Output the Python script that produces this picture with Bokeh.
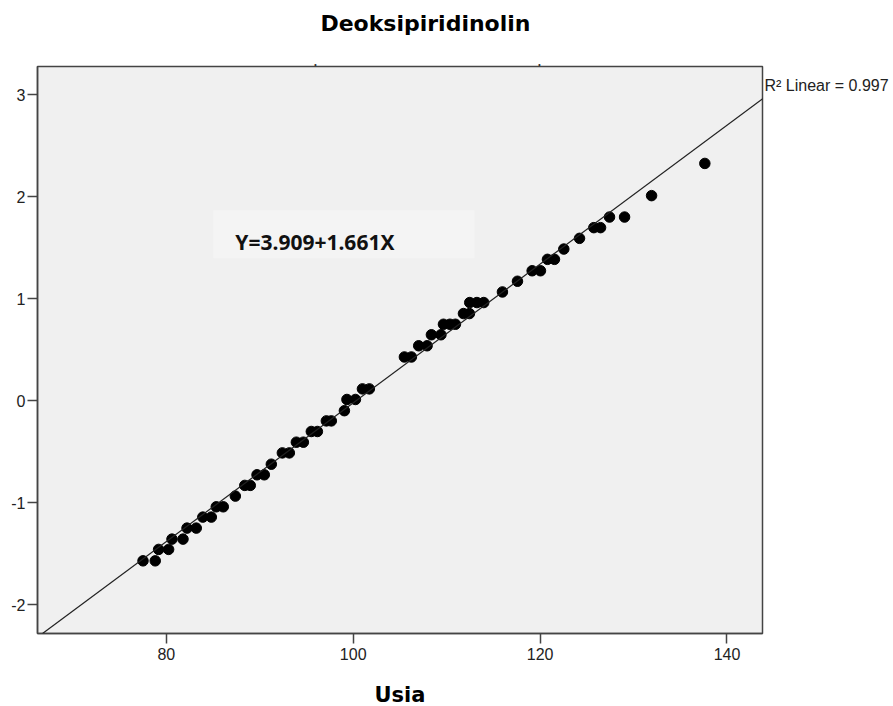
from bokeh.plotting import figure
from bokeh.models import Range1d, FixedTicker, Label, Slope, BoxAnnotation, LinearAxis
from bokeh.embed import file_html
from bokeh.resources import INLINE

# ---- data ----
title_text = "Deoksipiridinolin"
x_label = "Usia"
equation_text = "Y=3.909+1.661X"
r2_text = "R\u00b2 Linear = 0.997"

usia = [77.51, 78.82, 79.18, 80.25, 80.61, 81.79, 82.22, 83.21, 83.91, 84.82,
        85.35, 86.10, 87.39, 88.40, 88.99, 89.71, 90.49, 91.24, 92.42, 93.17,
        93.92, 94.67, 95.52, 96.17, 97.13, 97.66, 99.06, 99.33, 100.24, 100.99,
        101.73, 105.48, 106.23, 107.01, 107.91, 108.37, 109.39, 109.66, 110.35, 110.94,
        111.80, 112.44, 112.47, 113.24, 113.97, 115.97, 117.58, 119.15, 120.04, 120.79,
        121.54, 122.54, 124.22, 125.75, 126.47, 127.43, 129.04, 131.93, 137.63]
expected_normal = [-1.571, -1.571, -1.459, -1.459, -1.358, -1.358, -1.250, -1.250, -1.142, -1.142,
                   -1.041, -1.041, -0.936, -0.831, -0.831, -0.727, -0.727, -0.623, -0.512, -0.512,
                   -0.407, -0.407, -0.302, -0.302, -0.198, -0.198, -0.098, 0.012, 0.012, 0.116,
                   0.116, 0.429, 0.429, 0.539, 0.539, 0.647, 0.647, 0.750, 0.750, 0.750,
                   0.855, 0.855, 0.963, 0.963, 0.963, 1.067, 1.172, 1.275, 1.275, 1.387,
                   1.387, 1.488, 1.593, 1.698, 1.698, 1.802, 1.802, 2.012, 2.328]
line_mean = 100.31
line_sd = 14.69
x_ticks = [80, 100, 120, 140]
y_ticks = [-2, -1, 0, 1, 2, 3]
top_marks = [95.95, 119.94]
title_pos = 107.73
r2_pos = 3.093
x_lo, x_hi = 66.22, 143.8
y_lo, y_hi = -2.284, 3.279


def text_axis(ticks, labels, font, size, style, color, standoff):
    ax = LinearAxis(ticker=FixedTicker(ticks=ticks),
                    major_label_overrides=dict(zip(ticks, labels)))
    ax.axis_line_color = None
    ax.major_tick_line_color = None
    ax.major_tick_out = 0
    ax.major_tick_in = 0
    ax.minor_tick_line_color = None
    ax.major_label_standoff = standoff
    ax.major_label_text_font = font
    ax.major_label_text_font_style = style
    ax.major_label_text_font_size = size
    ax.major_label_text_color = color
    return ax


p = figure(frame_width=725, frame_height=567,
           x_range=Range1d(x_lo, x_hi), y_range=Range1d(y_lo, y_hi),
           output_backend="svg", toolbar_location=None,
           min_border_left=37, min_border_right=131, min_border_top=66, min_border_bottom=73)

p.background_fill_color = "#f0f0f0"
p.border_fill_color = "white"
p.outline_line_color = "#444444"
p.outline_line_width = 1.5
p.xgrid.visible = False
p.ygrid.visible = False

for ax in (p.xaxis[0], p.yaxis[0]):
    ax.axis_line_color = "#444444"
    ax.axis_line_width = 1.5
    ax.major_tick_line_color = "#444444"
    ax.major_tick_line_width = 1.5
    ax.major_tick_in = 0
    ax.major_tick_out = 10
    ax.minor_tick_line_color = None
    ax.major_label_text_font = "Liberation Sans"
    ax.major_label_text_font_size = "16px"
    ax.major_label_text_color = "#222222"

p.xaxis.ticker = FixedTicker(ticks=x_ticks)
p.yaxis.ticker = FixedTicker(ticks=y_ticks)
p.yaxis.major_label_overrides = {t: str(t) for t in y_ticks}
p.xaxis.major_label_standoff = 4
p.yaxis.major_label_standoff = 2
p.xaxis.axis_label = x_label
p.xaxis.axis_label_text_font = "DejaVu Sans"
p.xaxis.axis_label_text_font_style = "bold"
p.xaxis.axis_label_text_font_size = "21px"
p.xaxis.axis_label_text_color = "black"
p.xaxis.axis_label_standoff = 20

# right-hand fit label
p.add_layout(text_axis([r2_pos], [r2_text], "Liberation Sans", "16px", "normal", "#222222", 2), "right")

# two small marks just above the frame, then the chart title above them
p.add_layout(text_axis(top_marks, [".", "."], "Liberation Sans", "12px", "bold", "#333333", 1), "above")
p.add_layout(text_axis([title_pos], [title_text], "DejaVu Sans", "22px", "bold", "black", 18), "above")

# equation box
p.add_layout(BoxAnnotation(left=85.03, right=112.98, bottom=1.397, top=1.868,
                           fill_color="#f4f4f4", fill_alpha=1.0, line_color=None, level="underlay"))

# reference line
p.add_layout(Slope(gradient=1.0 / line_sd, y_intercept=-line_mean / line_sd,
                   line_color="#222222", line_width=1.2))

p.scatter(usia, expected_normal, size=10.5, fill_color="black", line_color="black")

p.add_layout(Label(x=87.39, y=1.557, text=equation_text, text_font="Noto Sans",
                   text_font_style="bold", text_font_size="21px", text_color="#111111",
                   text_baseline="alphabetic"))

open("out.html", "w").write(file_html(p, INLINE))
